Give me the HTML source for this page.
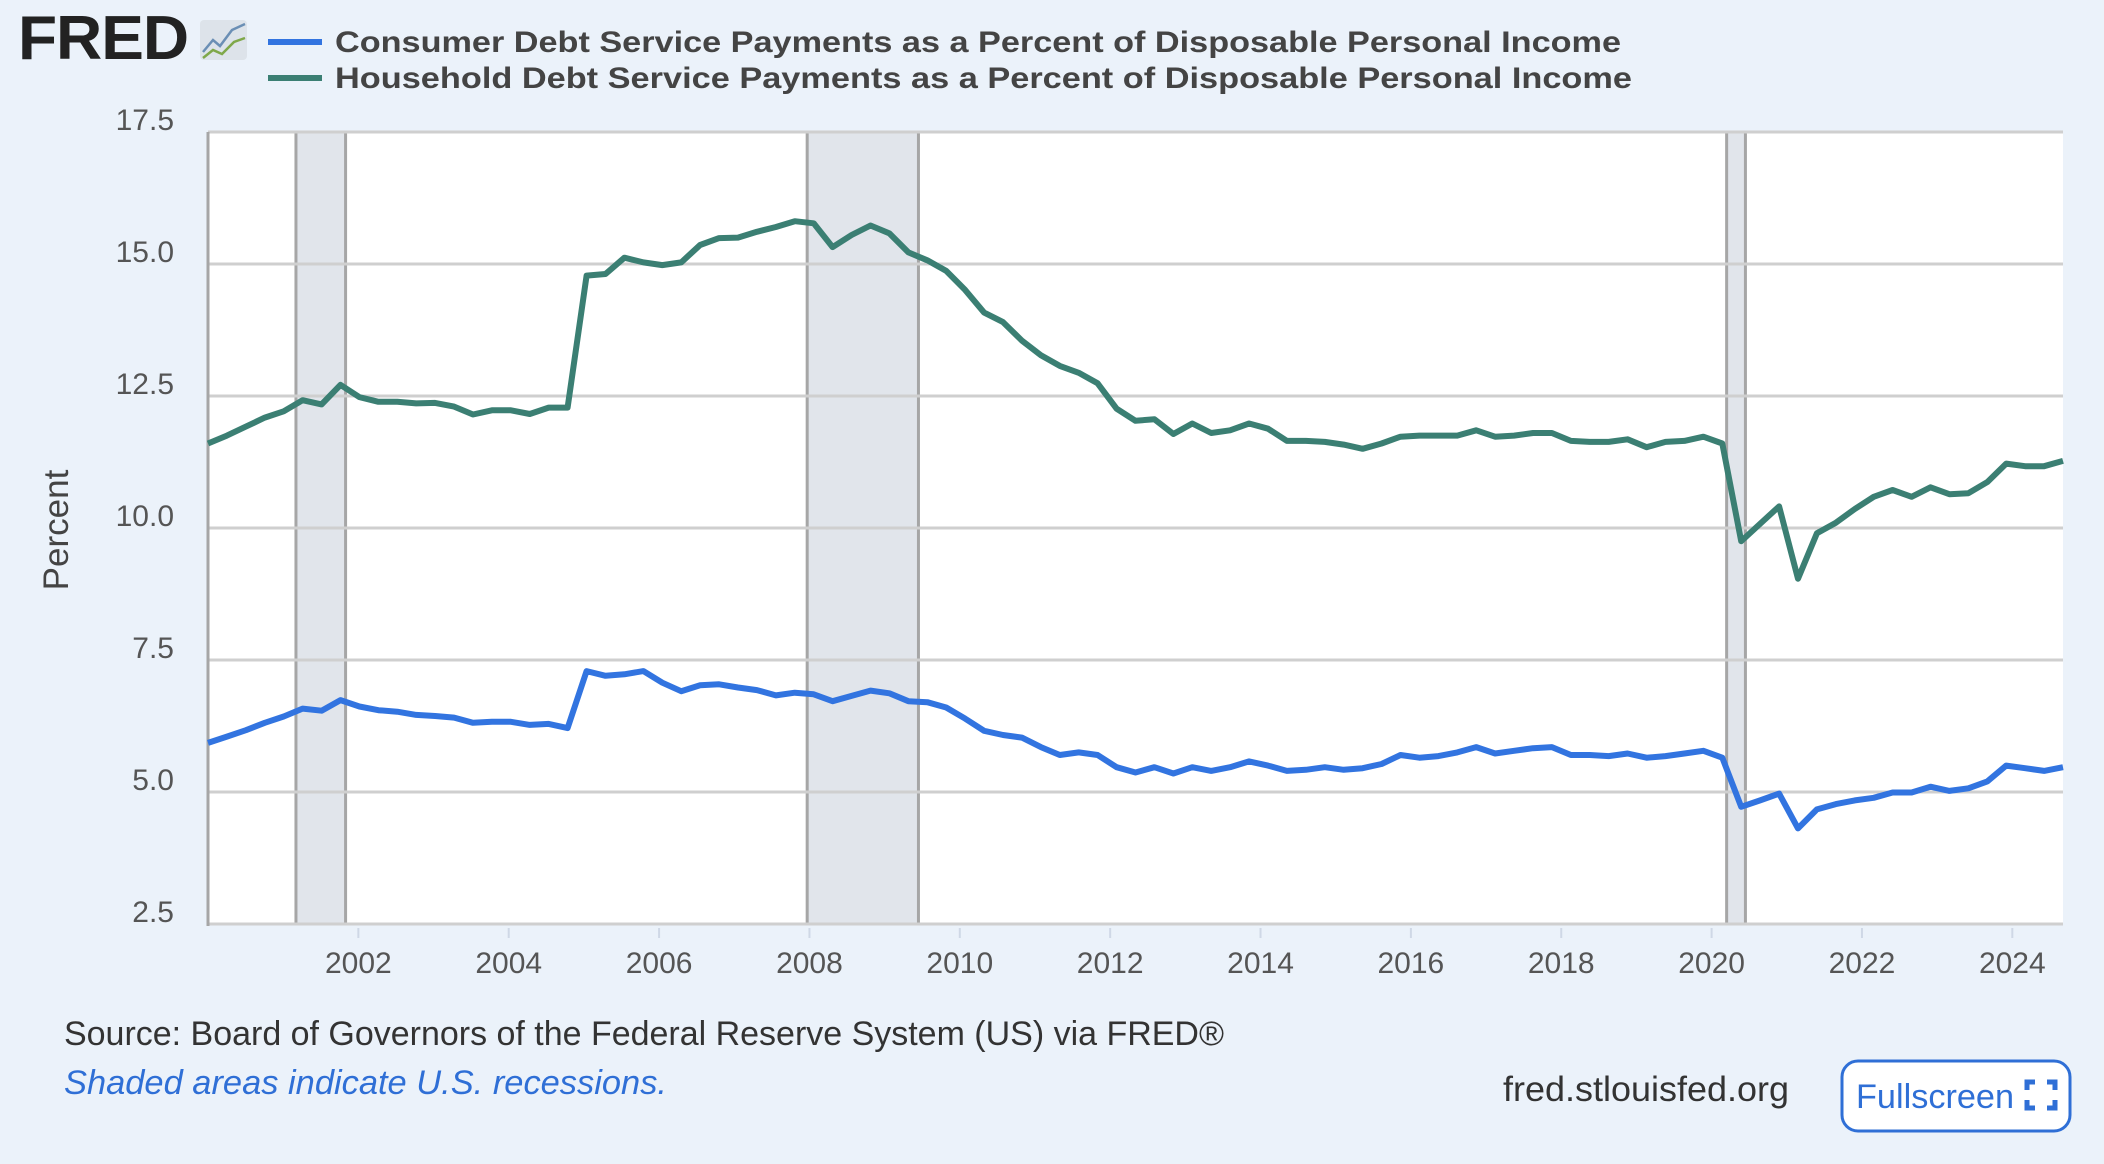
<!DOCTYPE html>
<html><head><meta charset="utf-8"><style>
html,body{margin:0;padding:0;background:#ebf2fa;}
svg{display:block;font-family:"Liberation Sans",sans-serif;}
</style></head><body>
<svg id="chart" width="2104" height="1164" viewBox="0 0 2104 1164">
<rect x="0" y="0" width="2104" height="1164" fill="#ebf2fa"/>
<g>
<text x="18" y="59" font-size="62" font-weight="bold" fill="#222" letter-spacing="-1" textLength="170" lengthAdjust="spacingAndGlyphs">FRED</text>
<rect x="200" y="20" width="47" height="40" rx="4" fill="#dde3ea"/>
<polyline points="203,52 213,40 220,46 232,30 245,24" fill="none" stroke="#6b8fb5" stroke-width="2.5"/>
<polyline points="203,58 213,50 222,54 234,42 245,38" fill="none" stroke="#7fa84a" stroke-width="2.5"/>
</g>
<g>
<line x1="268" y1="42" x2="322" y2="42" stroke="#3274e0" stroke-width="6"/>
<text x="335" y="52" font-size="30" font-weight="bold" fill="#444" textLength="1286" lengthAdjust="spacingAndGlyphs">Consumer Debt Service Payments as a Percent of Disposable Personal Income</text>
<line x1="268" y1="78" x2="322" y2="78" stroke="#3b7f73" stroke-width="6"/>
<text x="335" y="88" font-size="30" font-weight="bold" fill="#444" textLength="1297" lengthAdjust="spacingAndGlyphs">Household Debt Service Payments as a Percent of Disposable Personal Income</text>
</g>
<rect x="208" y="132" width="1855" height="793" fill="#fff"/>
<g id="rec"></g>
<g id="grid"></g>
<g id="yt"></g>
<g id="xt"></g>
<g id="series"></g>
<text transform="translate(68,530) rotate(-90)" text-anchor="middle" font-size="35" fill="#444">Percent</text>
<text x="64" y="1045" font-size="34" fill="#333" textLength="1160" lengthAdjust="spacingAndGlyphs">Source: Board of Governors of the Federal Reserve System (US) via FRED®</text>
<text x="64" y="1094" font-size="34" font-style="italic" fill="#2f6fd6" textLength="603" lengthAdjust="spacingAndGlyphs">Shaded areas indicate U.S. recessions.</text>
<text x="1503" y="1101" font-size="35" fill="#333" textLength="286" lengthAdjust="spacingAndGlyphs">fred.stlouisfed.org</text>
<g>
<rect x="1842" y="1061" width="228" height="70" rx="16" fill="#fff" stroke="#2f6fd6" stroke-width="3"/>
<text x="1856" y="1108" font-size="34" fill="#2f6fd6" textLength="158" lengthAdjust="spacingAndGlyphs">Fullscreen</text>
<path d="M2027,1090v-8h8 M2047,1082h8v8 M2055,1100v8h-8 M2035,1108h-8v-8" fill="none" stroke="#2f6fd6" stroke-width="5"/>
</g>
</svg>
<script>
const startYear = 2000;
const yTicks = [2.5, 5.0, 7.5, 10.0, 12.5, 15.0, 17.5];
const xTickYears = [2002, 2004, 2006, 2008, 2010, 2012, 2014, 2016, 2018, 2020, 2022, 2024];
const recessions = [[2001.17, 2001.83], [2007.97, 2009.45], [2020.2, 2020.45]];
const household = [
11.6,11.75,11.92,12.09, 12.21,12.42,12.34,12.71, 12.48,12.39,12.39,12.36, 12.37,12.3,12.15,12.23,
12.23,12.16,12.28,12.28, 14.78,14.81,15.12,15.03, 14.98,15.03,15.36,15.49, 15.5,15.61,15.7,15.81,
15.77,15.32,15.55,15.73, 15.58,15.22,15.07,14.87, 14.51,14.08,13.9,13.55, 13.27,13.07,12.94,12.74,
12.26,12.03,12.06,11.78, 11.98,11.8,11.85,11.98, 11.88,11.65,11.65,11.63, 11.58,11.5,11.6,11.73,
11.75,11.75,11.75,11.85, 11.73,11.75,11.8,11.8, 11.65,11.63,11.63,11.68, 11.53,11.63,11.65,11.73,
11.6,9.75,10.08,10.41, 9.04,9.9,10.1,10.36, 10.59,10.72,10.59,10.77, 10.64,10.66,10.87,11.22,
11.17,11.17,11.27];
const consumer = [
5.93,6.05,6.17,6.31, 6.43,6.58,6.54,6.74, 6.62,6.55,6.52,6.46, 6.44,6.41,6.31,6.33,
6.33,6.27,6.29,6.21, 7.29,7.2,7.23,7.29, 7.07,6.91,7.02,7.04, 6.98,6.93,6.83,6.88,
6.85,6.72,6.82,6.92, 6.87,6.72,6.7,6.6, 6.39,6.16,6.08,6.03, 5.85,5.7,5.75,5.7,
5.47,5.37,5.47,5.35, 5.47,5.4,5.47,5.58, 5.5,5.4,5.42,5.47, 5.42,5.45,5.53,5.7,
5.65,5.68,5.75,5.85, 5.73,5.78,5.83,5.85, 5.7,5.7,5.68,5.73, 5.65,5.68,5.73,5.78,
5.65,4.72,4.84,4.97, 4.31,4.67,4.77,4.84, 4.89,4.99,4.99,5.1, 5.02,5.07,5.2,5.5,
5.45,5.4,5.47];

const NS = "http://www.w3.org/2000/svg";
const L = 208, R = 2063, T = 132, B = 924;
const pxPerYear = 75.18;
const x = t => L + (t - startYear) * pxPerYear;
const y = v => B - (v - 2.5) / 15 * (B - T);
function mk(tag, attrs, parent) {
  const e = document.createElementNS(NS, tag);
  for (const k in attrs) e.setAttribute(k, attrs[k]);
  parent.appendChild(e);
  return e;
}
const rec = document.getElementById('rec');
recessions.forEach(r => {
  const x1 = x(r[0]), x2 = x(r[1]);
  const el = mk('rect', {x: x1, y: T, width: x2 - x1, height: B - T, fill: '#e1e5eb', stroke: '#a6a6a6', 'stroke-width': 3}, rec);
  
  
});
const grid = document.getElementById('grid');
const yt = document.getElementById('yt');
yTicks.forEach(v => {
  const g = mk('line', {x1: L, x2: R, y1: y(v), y2: y(v), stroke: '#cfcfcf', 'stroke-width': 3}, grid);
  
  
  const t = mk('text', {x: 174, y: y(v) - 2, 'text-anchor': 'end', 'font-size': 30, fill: '#555'}, yt);
  t.textContent = v.toFixed(1);
  
  
});
const ax = mk('line', {x1: L, x2: L, y1: T, y2: B + 2, stroke: '#a6a6a6', 'stroke-width': 3}, grid);


const xt = document.getElementById('xt');
xTickYears.forEach(yr => {
  const tk = mk('line', {x1: x(yr), x2: x(yr), y1: B + 4, y2: B + 14, stroke: '#cfd8e6', 'stroke-width': 2}, xt);
  
  
  const t = mk('text', {x: x(yr), y: 973, 'text-anchor': 'middle', 'font-size': 30, fill: '#555'}, xt);
  t.textContent = yr;
  
  
});
const series = document.getElementById('series');
function line(data, color, name) {
  const step = (R - L) / (data.length - 1);
  const pts = data.map((v, i) => (L + i * step).toFixed(1) + ',' + y(v).toFixed(1)).join(' ');
  const p = mk('polyline', {points: pts, fill: 'none', stroke: color, 'stroke-width': 6, 'stroke-linejoin': 'round'}, series);
  
  
}
line(household, '#3b7f73', 'household-line');
line(consumer, '#3274e0', 'consumer-line');
</script>
</body></html>
